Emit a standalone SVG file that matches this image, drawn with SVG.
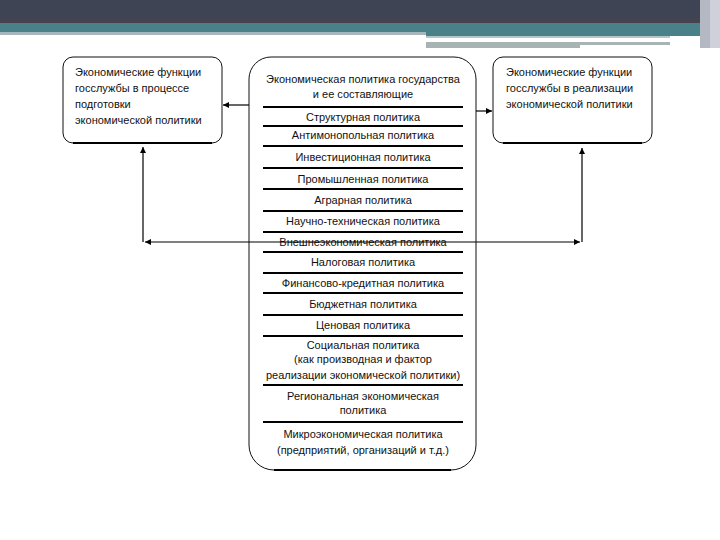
<svg xmlns="http://www.w3.org/2000/svg" width="720" height="540" viewBox="0 0 720 540">
<style>
.t{font-family:"Liberation Sans",Arial,sans-serif;font-size:11px;fill:#111}
.c{text-anchor:middle}
.box{fill:#fff;stroke:#111;stroke-width:1}
.bot{stroke:#000;stroke-width:2;fill:none}
.sep{stroke:#000;stroke-width:2}
.con{stroke:#000;stroke-width:1.2;fill:none}
</style>
<defs>
<marker id="ah" viewBox="0 0 10 10" refX="10" refY="5" markerWidth="7" markerHeight="6" markerUnits="userSpaceOnUse" orient="auto-start-reverse">
<path d="M0,0 L10,5 L0,10 Z" fill="#000"/>
</marker>
</defs>
<rect width="720" height="540" fill="#fff"/>
<g id="header">
<rect x="0" y="0" width="720" height="23" fill="#3f4454"/>
<rect x="0" y="18" width="720" height="5" fill="#44434f"/>
<rect x="0" y="23" width="707" height="9" fill="#4a8188"/>
<rect x="0" y="32" width="426" height="3" fill="#a6b6bc"/>
<rect x="426" y="32" width="281" height="4" fill="#4a8188"/>
<rect x="426" y="36" width="244" height="2" fill="#b4c6ca"/>
<rect x="426" y="42" width="244" height="3" fill="#a8b4b4"/>
<rect x="426" y="45" width="154" height="3" fill="#a8b4b4"/>
<rect x="700" y="0" width="10" height="48" fill="#b4b8c2"/>
<rect x="710" y="0" width="10" height="48" fill="#cfd0d9"/>
</g>
<g id="left-box">
<rect class="box" x="63" y="57" width="159" height="86" rx="10"/>
<path class="bot" d="M73,143 H212"/>
<text class="t" x="75" y="76">Экономические функции</text>
<text class="t" x="75" y="92">госслужбы в процессе</text>
<text class="t" x="75" y="108">подготовки</text>
<text class="t" x="75" y="124">экономической политики</text>
</g>
<g id="right-box">
<rect class="box" x="493" y="57" width="159" height="86" rx="10"/>
<path class="bot" d="M503,143 H642"/>
<text class="t" x="506" y="76">Экономические функции</text>
<text class="t" x="506" y="92">госслужбы в реализации</text>
<text class="t" x="506" y="108">экономической политики</text>
</g>
<g id="center-box">
<path class="box" d="M271,57 H454 A22 22 0 0 1 476 79 V445 A25 25 0 0 1 451 470 H274 A25 25 0 0 1 249 445 V79 A22 22 0 0 1 271 57 Z"/>
<path class="bot" d="M274,470 H451"/>
<text class="t c" x="363" y="83">Экономическая политика государства</text>
<text class="t c" x="363" y="98">и ее составляющие</text>
<g>
<line class="sep" x1="263" y1="107" x2="463" y2="107"/>
<line class="sep" x1="263" y1="126" x2="463" y2="126"/>
<line class="sep" x1="263" y1="146" x2="463" y2="146"/>
<line class="sep" x1="263" y1="168" x2="463" y2="168"/>
<line class="sep" x1="263" y1="189" x2="463" y2="189"/>
<line class="sep" x1="263" y1="211" x2="463" y2="211"/>
<line class="sep" x1="263" y1="232" x2="463" y2="232"/>
<line class="sep" x1="263" y1="252" x2="463" y2="252"/>
<line class="sep" x1="263" y1="273" x2="463" y2="273"/>
<line class="sep" x1="263" y1="293" x2="463" y2="293"/>
<line class="sep" x1="263" y1="315" x2="463" y2="315"/>
<line class="sep" x1="263" y1="336" x2="463" y2="336"/>
<line class="sep" x1="263" y1="385" x2="463" y2="385"/>
<line class="sep" x1="263" y1="422" x2="463" y2="422"/>
</g>
<text class="t c" x="363" y="121">Структурная политика</text>
<text class="t c" x="363" y="139">Антимонопольная политика</text>
<text class="t c" x="363" y="161">Инвестиционная политика</text>
<text class="t c" x="363" y="183">Промышленная политика</text>
<text class="t c" x="363" y="204">Аграрная политика</text>
<text class="t c" x="363" y="225">Научно-техническая политика</text>
<text class="t c" x="363" y="246">Внешнеэкономическая политика</text>
<text class="t c" x="363" y="266">Налоговая политика</text>
<text class="t c" x="363" y="287">Финансово-кредитная политика</text>
<text class="t c" x="363" y="308">Бюджетная политика</text>
<text class="t c" x="363" y="329">Ценовая политика</text>
<text class="t c" x="363" y="349">Социальная политика</text>
<text class="t c" x="363" y="363">(как производная и фактор</text>
<text class="t c" x="363" y="379">реализации экономической политики)</text>
<text class="t c" x="363" y="400">Региональная экономическая</text>
<text class="t c" x="363" y="414">политика</text>
<text class="t c" x="363" y="438">Микроэкономическая политика</text>
<text class="t c" x="363" y="454">(предприятий, организаций и т.д.)</text>
</g>
<g id="connectors">
<line class="con" x1="249" y1="105" x2="223" y2="105" marker-end="url(#ah)"/>
<line class="con" x1="476" y1="111" x2="492" y2="111" marker-end="url(#ah)"/>
<line class="con" x1="145" y1="242" x2="580" y2="242" marker-start="url(#ah)" marker-end="url(#ah)"/>
<line class="con" x1="143" y1="242" x2="143" y2="147" marker-end="url(#ah)"/>
<line class="con" x1="582" y1="242" x2="582" y2="148" marker-end="url(#ah)"/>
</g>
</svg>
